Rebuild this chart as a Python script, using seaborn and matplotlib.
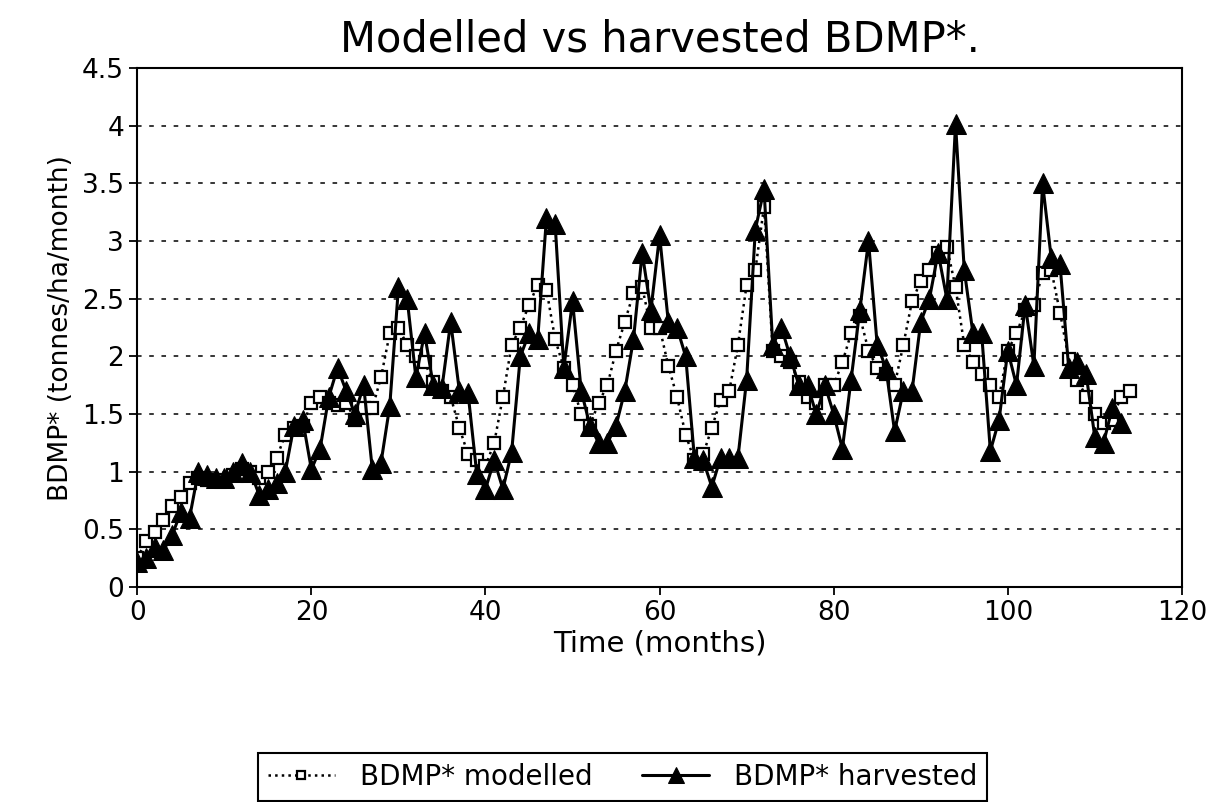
import numpy as np
import pandas as pd
import seaborn as sns
import matplotlib.pyplot as plt

# BDMP* values, one per month
modelled = [0.25, 0.4, 0.48, 0.58, 0.7, 0.78, 0.9, 0.95, 0.93, 0.92,
            0.93, 0.97, 1.02, 1.0, 0.95, 1.0, 1.12, 1.32, 1.38, 1.4,
            1.6, 1.65, 1.6, 1.58, 1.6, 1.45, 1.55, 1.55, 1.82, 2.2,
            2.25, 2.1, 2.0, 1.95, 1.78, 1.7, 1.65, 1.38, 1.15, 1.1,
            1.05, 1.25, 1.65, 2.1, 2.25, 2.45, 2.62, 2.58, 2.15, 1.9,
            1.75, 1.5, 1.4, 1.6, 1.75, 2.05, 2.3, 2.55, 2.6, 2.25,
            2.25, 1.92, 1.65, 1.32, 1.1, 1.15, 1.38, 1.62, 1.7, 2.1,
            2.62, 2.75, 3.3, 2.05, 2.0, 1.95, 1.78, 1.65, 1.6, 1.75,
            1.75, 1.95, 2.2, 2.35, 2.05, 1.9, 1.85, 1.75, 2.1, 2.48,
            2.65, 2.75, 2.9, 2.95, 2.6, 2.1, 1.95, 1.85, 1.75, 1.65,
            2.05, 2.2, 2.4, 2.45, 2.72, 2.75, 2.38, 1.98, 1.8, 1.65,
            1.5, 1.42, 1.45, 1.65, 1.7]

harvested = [0.22, 0.25, 0.35, 0.32, 0.45, 0.65, 0.6, 1.0, 0.97, 0.95,
             0.95, 1.0, 1.08, 1.0, 0.8, 0.85, 0.9, 1.0, 1.4, 1.45,
             1.02, 1.2, 1.65, 1.9, 1.7, 1.5, 1.75, 1.02, 1.08, 1.57,
             2.6, 2.5, 1.82, 2.2, 1.75, 1.73, 2.3, 1.7, 1.68, 0.98,
             0.85, 1.1, 0.85, 1.17, 2.0, 2.2, 2.15, 3.2, 3.15, 1.9,
             2.48, 1.7, 1.4, 1.25, 1.25, 1.4, 1.7, 2.15, 2.9, 2.4,
             3.05, 2.3, 2.25, 2.0, 1.12, 1.1, 0.87, 1.12, 1.12, 1.12,
             1.8, 3.1, 3.45, 2.1, 2.25, 2.0, 1.75, 1.75, 1.5, 1.75,
             1.5, 1.2, 1.8, 2.4, 3.0, 2.1, 1.9, 1.35, 1.7, 1.7,
             2.3, 2.5, 2.9, 2.5, 4.02, 2.75, 2.2, 2.2, 1.18, 1.45,
             2.05, 1.75, 2.45, 1.92, 3.5, 2.85, 2.8, 1.9, 1.95, 1.85,
             1.3, 1.25, 1.55, 1.42]

months_mod = np.arange(len(modelled))
months_harv = np.arange(len(harvested))

df_mod = pd.DataFrame({"month": months_mod, "value": modelled})
df_harv = pd.DataFrame({"month": months_harv, "value": harvested})

sns.set_style("ticks")
plt.rcParams['font.family'] = ['DejaVu Sans']
plt.rcParams['text.color'] = 'black'
plt.rcParams['axes.labelcolor'] = 'black'

fig = plt.figure(figsize=(12.26, 8.02), dpi=100)
ax = fig.add_axes([0.112, 0.268, 0.852, 0.647])

sns.lineplot(data=df_mod, x="month", y="value", ax=ax, color="black",
             linestyle=":", linewidth=1.8, marker="s", markersize=8,
             markerfacecolor="white", markeredgecolor="black",
             markeredgewidth=1.6, label="BDMP* modelled")
sns.lineplot(data=df_harv, x="month", y="value", ax=ax, color="black",
             linestyle="-", linewidth=2.2, marker="^", markersize=14,
             markerfacecolor="black", markeredgecolor="black",
             label="BDMP* harvested")

ax.set_xlim(0, 120)
ax.set_ylim(0, 4.5)
ax.set_xticks(range(0, 121, 20))
ax.set_yticks(np.arange(0, 4.51, 0.5))
ax.set_yticklabels(["0", "0.5", "1", "1.5", "2", "2.5", "3", "3.5", "4", "4.5"])
ax.yaxis.grid(True, color="black", linestyle=(0, (3, 5)), linewidth=1.1)
for s in ax.spines.values():
    s.set_visible(True)
    s.set_color("black")
    s.set_linewidth(1.5)
ax.tick_params(labelsize=19, length=6, width=1.3, colors="black")
ax.set_xlabel("Time (months)", fontsize=21, labelpad=2)
ax.set_ylabel("BDMP* (tonnes/ha/month)", fontsize=19, labelpad=6)
ax.set_title("Modelled vs harvested BDMP*.", fontsize=30, pad=12)

ax.get_legend().remove()
handles, labels = ax.get_legend_handles_labels()
leg = fig.legend(handles, labels, loc="upper center",
                 bbox_to_anchor=(0.508, 0.078), ncol=2, fontsize=20,
                 frameon=True, fancybox=False, edgecolor="black",
                 framealpha=1, borderpad=0.35, handlelength=2.4,
                 columnspacing=1.8, handletextpad=0.9, markerscale=0.8)
leg.get_frame().set_linewidth(1.5)

fig.savefig("out.png", dpi=100)
